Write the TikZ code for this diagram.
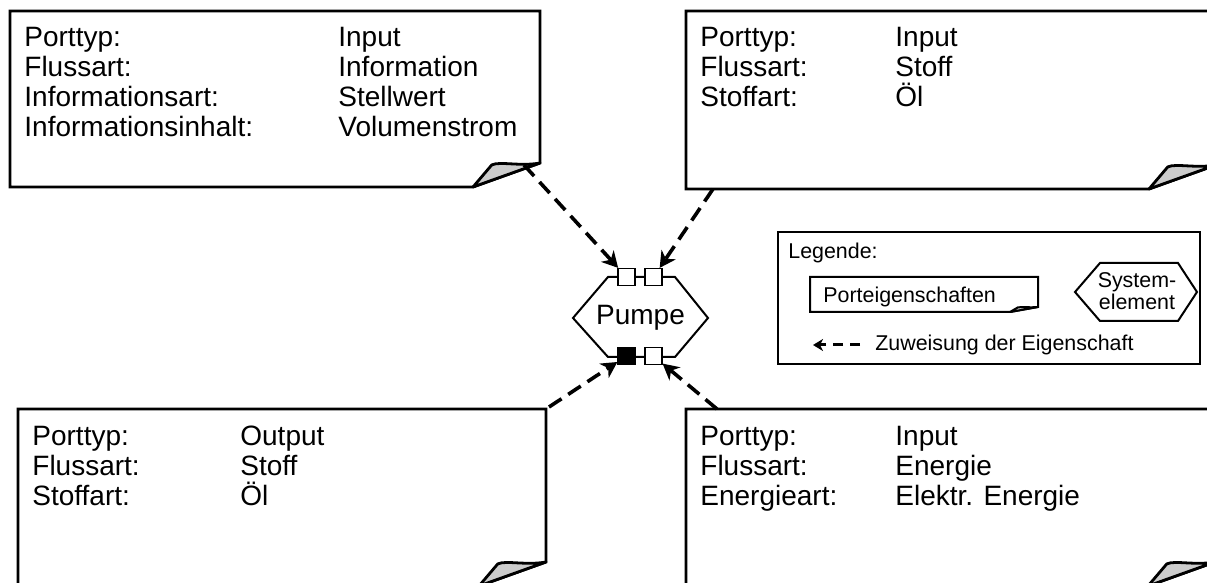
\documentclass[tikz,border=0pt]{standalone}
\usepackage{fontspec}
\setmainfont{Liberation Sans}
\usepackage{xcolor}
\usetikzlibrary{arrows.meta, positioning}
\definecolor{flapgray}{RGB}{204,204,204}

\tikzset{
  notebox/.style={draw=black, line width=1.4pt, line join=miter, fill=white},
  flap/.style={draw=black, line width=1.4pt, line join=round, fill=flapgray},
  proptext/.style={anchor=base west, inner sep=0pt, font=\fontsize{14}{15}\selectfont},
  legtext/.style={anchor=west, inner sep=0pt, font=\fontsize{10.7}{12}\selectfont},
  portsq/.style={draw=black, line width=0.6pt, fill=white, minimum size=8.5pt, inner sep=0pt},
  hexline/.style={draw=black, line width=1pt, line join=miter},
  assignarrow/.style={line width=1.8pt, dash pattern=on 7.5pt off 4pt,
    -{Stealth[length=8pt, width=8.5pt, inset=2.5pt]}},
  legarrow/.style={line width=1.5pt, dash pattern=on 5pt off 3.5pt,
    -{Stealth[length=5pt, width=6pt, inset=1.5pt]}}
}

% folded sheet: [style] x1 y1 x2 y2 foldwidth foldheight
\newcommand{\notesheet}[7][]{%
  \draw[notebox, #1] (#2,#3) -- (#4,#3) -- (#4,{#5-#7}) -- ({#4-#6},#5) -- (#2,#5) -- cycle;
  \draw[flap, #1] ({#4-#6},#5) -- ({#4-0.72*#6},{#5-0.92*#7})
    .. controls ({#4-0.6*#6},{#5-1.08*#7}) and ({#4-0.3*#6},{#5-0.85*#7}) .. (#4,{#5-#7}) -- cycle;
}

\begin{document}
\begin{tikzpicture}[x=0.5pt, y=-0.5pt]
    \useasboundingbox (0,0) rectangle (1207,583);

    % property sheets
    \notesheet{10}{11}{540}{187}{67}{24}
    \notesheet{686}{11}{1216}{189}{67}{24}
    \notesheet{18}{409}{546}{586}{67}{24}
    \notesheet{686}{409}{1215}{586}{67}{24}

    \node (infoprops) at (24,47) [proptext] {\begin{tabular}[t]{@{}p{157pt}@{}l@{}}
      Porttyp: & Input\\
      Flussart: & Information\\
      Informationsart: & Stellwert\\
      Informationsinhalt: & Volumenstrom
    \end{tabular}};
    \node (oilinprops) at (700,47) [proptext] {\begin{tabular}[t]{@{}p{97.5pt}@{}l@{}}
      Porttyp: & Input\\
      Flussart: & Stoff\\
      Stoffart: & \smash{Öl}
    \end{tabular}};
    \node (oiloutprops) at (32,445) [proptext] {\begin{tabular}[t]{@{}p{104pt}@{}l@{}}
      Porttyp: & Output\\
      Flussart: & Stoff\\
      Stoffart: & \smash{Öl}
    \end{tabular}};
    \node (energyprops) at (700,445) [proptext] {\begin{tabular}[t]{@{}p{97.5pt}@{}l@{}}
      Porttyp: & Input\\
      Flussart: & Energie\\
      Energieart: & Elektr. Energie
    \end{tabular}};

    % system element with ports
    \draw[hexline] (573,318) -- (608,277) -- (675,277) -- (708,318) -- (675,357) -- (608,357) -- cycle;
    \node (pumpe) at (640.5,318) [font=\fontsize{14}{15}\selectfont] {Pumpe};
    \node (portInfo) at (626.5,277) [portsq] {};
    \node (portOilIn) at (653.5,277) [portsq] {};
    \node (portOilOut) at (626.5,356) [portsq, fill=black] {};
    \node (portEnergy) at (653.5,356) [portsq] {};

    % assignments
    \coordinate (infoTail) at (524,165);
    \coordinate (oilinTail) at (713,189);
    \coordinate (oiloutTail) at (549,407);
    \coordinate (energyTail) at (717,409);
    \draw[assignarrow] (infoTail) -- (portInfo);
    \draw[assignarrow] (oilinTail) -- (portOilIn);
    \draw[assignarrow] (oiloutTail) -- (portOilOut);
    \draw[assignarrow] (energyTail) -- (portEnergy);

    % legend
    \draw[draw=black, line width=1pt] (778,232) rectangle (1200,364);
    \node (legtitle) at (788,253) [legtext] {Legende:};
    \notesheet[line width=1pt]{810}{277}{1038}{312}{28}{5}
    \node (legsheet) at (823,297) [legtext] {Porteigenschaften};
    \draw[hexline] (1075,292) -- (1100,263) -- (1178,263) -- (1197,292) -- (1178,321) -- (1100,321) -- cycle;
    \node (legelement) at (1137,291) [align=center, inner sep=0pt, font=\fontsize{10.7}{9}\selectfont] {System-\\element};
    \coordinate (legTail) at (860,345);
    \coordinate (legTip) at (813,345);
    \draw[legarrow] (legTail) -- (legTip);
    \node (legassign) at (875,345) [legtext] {Zuweisung der Eigenschaft};
\end{tikzpicture}
\end{document}
